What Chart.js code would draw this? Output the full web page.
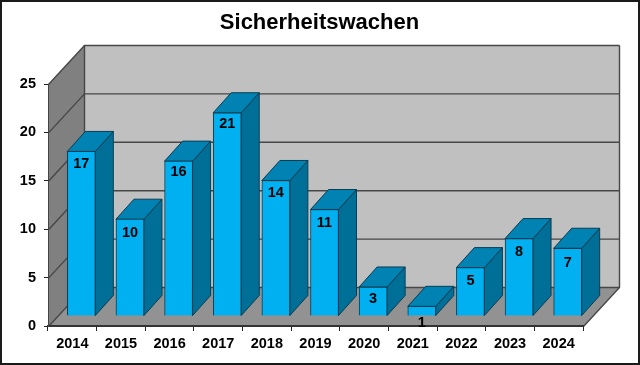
<!DOCTYPE html>
<html>
<head>
<meta charset="utf-8">
<title>Sicherheitswachen</title>
<script src="https://cdn.jsdelivr.net/npm/chart.js@4"></script>
<style>
    html, body { margin: 0; padding: 0; background: #fff; }
    canvas { display: block; }
</style>
</head>
<body>
<canvas id="chart" width="640" height="365"></canvas>
<script>
const years = ['2014', '2015', '2016', '2017', '2018', '2019', '2020', '2021', '2022', '2023', '2024'];
const wachen = [17, 10, 16, 21, 14, 11, 3, 1, 5, 8, 7];
const labelNudge = [0, 1, -2, -2, 0, 0, -1, 4, 0, 0, 2];
const chartTitle = 'Sicherheitswachen';

// depth of the fake 3d box, and of the bars inside it
const depthX = 36, depthY = -39;
const barDepthX = 18, barDepthY = -20;
const barShiftX = 9, barShiftY = -10;

function poly(ctx, pts, fill, stroke) {
    ctx.beginPath();
    pts.forEach((p, i) => i ? ctx.lineTo(p[0], p[1]) : ctx.moveTo(p[0], p[1]));
    ctx.closePath();
    if (fill) { ctx.fillStyle = fill; ctx.fill(); }
    if (stroke) { ctx.strokeStyle = stroke; ctx.lineWidth = 1; ctx.stroke(); }
}

const box3d = {
    id: 'box3d',
    beforeDraw(chart) {
        const { ctx, chartArea: a, scales: { y } } = chart;
        const l = a.left + 0.5, r = a.right + 0.5;
        const b = y.getPixelForValue(0) + 0.5, t = y.getPixelForValue(25) + 0.5;
        poly(ctx, [[l + depthX, t + depthY], [r + depthX, t + depthY], [r + depthX, b + depthY], [l + depthX, b + depthY]], '#c0c0c0');
        poly(ctx, [[l, t], [l + depthX, t + depthY], [l + depthX, b + depthY], [l, b]], '#808080');
        poly(ctx, [[l, b], [l + depthX, b + depthY], [r + depthX, b + depthY], [r, b]], '#929292');

        ctx.save();
        ctx.strokeStyle = '#474747';
        ctx.lineWidth = 1.4;
        y.ticks.forEach(tick => {
            const py = y.getPixelForValue(tick.value) + 0.5;
            ctx.beginPath();
            ctx.moveTo(l, py);
            ctx.lineTo(l + depthX, py + depthY);
            ctx.lineTo(r + depthX, py + depthY);
            ctx.stroke();
        });
        ctx.beginPath();
        ctx.moveTo(l + depthX, t + depthY);
        ctx.lineTo(l + depthX, b + depthY);
        ctx.moveTo(r + depthX, t + depthY);
        ctx.lineTo(r + depthX, b + depthY);
        ctx.lineTo(r, b);
        ctx.stroke();
        ctx.restore();
    },
    beforeDatasetDraw(chart, args) {
        const { ctx } = chart;
        ctx.save();
        ctx.translate(barShiftX, barShiftY);
        args.meta.data.forEach(bar => {
            const x0 = bar.x - bar.width / 2, x1 = bar.x + bar.width / 2;
            const edge = '#0c3d52';
            poly(ctx, [[x1, bar.y], [x1 + barDepthX, bar.y + barDepthY], [x1 + barDepthX, bar.base + barDepthY], [x1, bar.base]], '#006f98', edge);
            poly(ctx, [[x0, bar.y], [x0 + barDepthX, bar.y + barDepthY], [x1 + barDepthX, bar.y + barDepthY], [x1, bar.y]], '#0082b2', edge);
        });
    },
    afterDatasetDraw(chart) {
        chart.ctx.restore();
    },
    afterDraw(chart) {
        const { ctx } = chart;
        ctx.save();
        ctx.font = 'bold 14.5px "Liberation Sans"';
        ctx.fillStyle = '#000';
        ctx.textAlign = 'center';
        ctx.textBaseline = 'middle';
        chart.getDatasetMeta(0).data.forEach((bar, i) => {
            ctx.fillText(String(wachen[i]), bar.x + barShiftX, bar.y + barShiftY + 13 + labelNudge[i]);
        });
        // title is centred on the whole canvas, not on the plot area
        ctx.font = 'bold 22px "Liberation Sans"';
        ctx.fillText(chartTitle, 319.5, 23);
        ctx.strokeStyle = '#1a1a1a';
        ctx.lineWidth = 2;
        ctx.strokeRect(1, 1, 638, 363);
        ctx.restore();
    }
};

new Chart(document.getElementById('chart'), {
    type: 'bar',
    data: {
        labels: years,
        datasets: [{
            data: wachen,
            backgroundColor: '#00b0f0',
            borderColor: '#0c3d52',
            borderWidth: 1,
            barThickness: 28,
            clip: false
        }]
    },
    options: {
        responsive: false,
        animation: false,
        layout: { padding: { left: 0, right: 57, top: 84, bottom: 0 } },
        plugins: {
            legend: { display: false },
            tooltip: { enabled: false },
            title: { display: false }
        },
        scales: {
            x: {
                afterFit(scale) { scale.height = 39; },
                border: { color: '#333', width: 2 },
                grid: { drawOnChartArea: false, drawTicks: true, tickLength: 5, color: '#222' },
                ticks: {
                    color: '#000',
                    padding: 4,
                    maxRotation: 0,
                    font: { family: '"Liberation Sans"', size: 14.5, weight: 'bold' }
                }
            },
            y: {
                min: 0,
                max: 25,
                afterFit(scale) { scale.width = 48; },
                border: { color: '#444', width: 1 },
                grid: { drawOnChartArea: false, drawTicks: true, tickLength: 4, color: '#222' },
                ticks: {
                    stepSize: 5,
                    color: '#000',
                    padding: 8,
                    font: { family: '"Liberation Sans"', size: 14.5, weight: 'bold' }
                }
            }
        }
    },
    plugins: [box3d]
});
</script>
</body>
</html>
